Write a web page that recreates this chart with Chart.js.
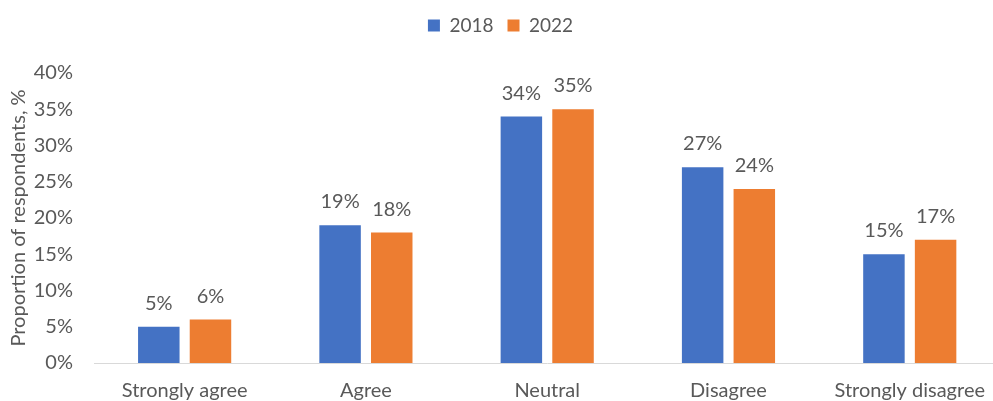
<!DOCTYPE html>
<html>
<head>
<meta charset="utf-8">
<script src="https://cdn.jsdelivr.net/npm/chart.js@4/dist/chart.umd.min.js"></script>
<style>
  html, body { margin: 0; padding: 0; background: #fff; overflow: hidden; width: 993px; height: 401px; }
  #wrap { width: 1001px; height: 401px; position: relative; }
</style>
</head>
<body>
<div id="wrap"><canvas id="c"></canvas></div>
<script>
const categories = ["Strongly agree", "Agree", "Neutral", "Disagree", "Strongly disagree"];
const values2018 = [5, 19, 34, 27, 15];
const values2022 = [6, 18, 35, 24, 17];
const yTicks = [0, 5, 10, 15, 20, 25, 30, 35, 40];

const FONT = "Lato, 'Liberation Sans', sans-serif";
const TEXT = "#595959";
const FS = 20;

const dataLabels = {
  id: 'dataLabels',
  afterDatasetsDraw(chart) {
    const ctx = chart.ctx;
    ctx.save();
    ctx.font = FS + "px " + FONT;
    ctx.fillStyle = TEXT;
    ctx.textAlign = 'center';
    ctx.textBaseline = 'alphabetic';
    chart.data.datasets.forEach((ds, i) => {
      const meta = chart.getDatasetMeta(i);
      meta.data.forEach((bar, j) => {
        ctx.fillText(ds.data[j] + '%', bar.x, bar.y - 17);
      });
    });
    ctx.restore();
  }
};

const legendSpace = {
  id: 'legendSpace',
  beforeInit(chart) {
    const orig = chart.legend.fit;
    chart.legend.fit = function () { orig.call(this); this.height += 28; };
  }
};

new Chart(document.getElementById('c'), {
  type: 'bar',
  data: {
    labels: categories,
    datasets: [
      { label: '2018', data: values2018, backgroundColor: '#4472C4', categoryPercentage: 0.57, barPercentage: 0.803 },
      { label: '2022', data: values2022, backgroundColor: '#ED7D31', categoryPercentage: 0.57, barPercentage: 0.803 }
    ]
  },
  options: {
    responsive: true,
    maintainAspectRatio: false,
    animation: false,
    layout: { padding: { left: 0, right: 0, top: 2, bottom: 0 } },
    plugins: {
      legend: {
        position: 'top',
        labels: {
          font: { family: FONT, size: 19 },
          color: TEXT,
          boxWidth: 12,
          boxHeight: 12,
          padding: 14
        }
      },
      tooltip: { enabled: false }
    },
    scales: {
      x: {
        afterFit(scale) { scale.height = 38; },
        grid: { display: false, drawTicks: false },
        border: { display: true, color: '#D9D9D9', width: 1 },
        ticks: { font: { family: FONT, size: FS }, color: TEXT, padding: 16, maxRotation: 0, autoSkip: false }
      },
      y: {
        min: 0,
        max: 40,
        afterFit(scale) { scale.width = 94; },
        afterBuildTicks(axis) { axis.ticks = yTicks.map(v => ({ value: v })); },
        grid: { display: false, drawTicks: false },
        border: { display: false },
        ticks: { font: { family: FONT, size: FS }, color: TEXT, padding: 21, callback: v => v + '%' },
        title: { display: true, text: 'Proportion of respondents, %', font: { family: FONT, size: FS }, color: TEXT, padding: { top: 7, bottom: 0 } }
      }
    }
  },
  plugins: [dataLabels, legendSpace]
});
</script>
</body>
</html>
